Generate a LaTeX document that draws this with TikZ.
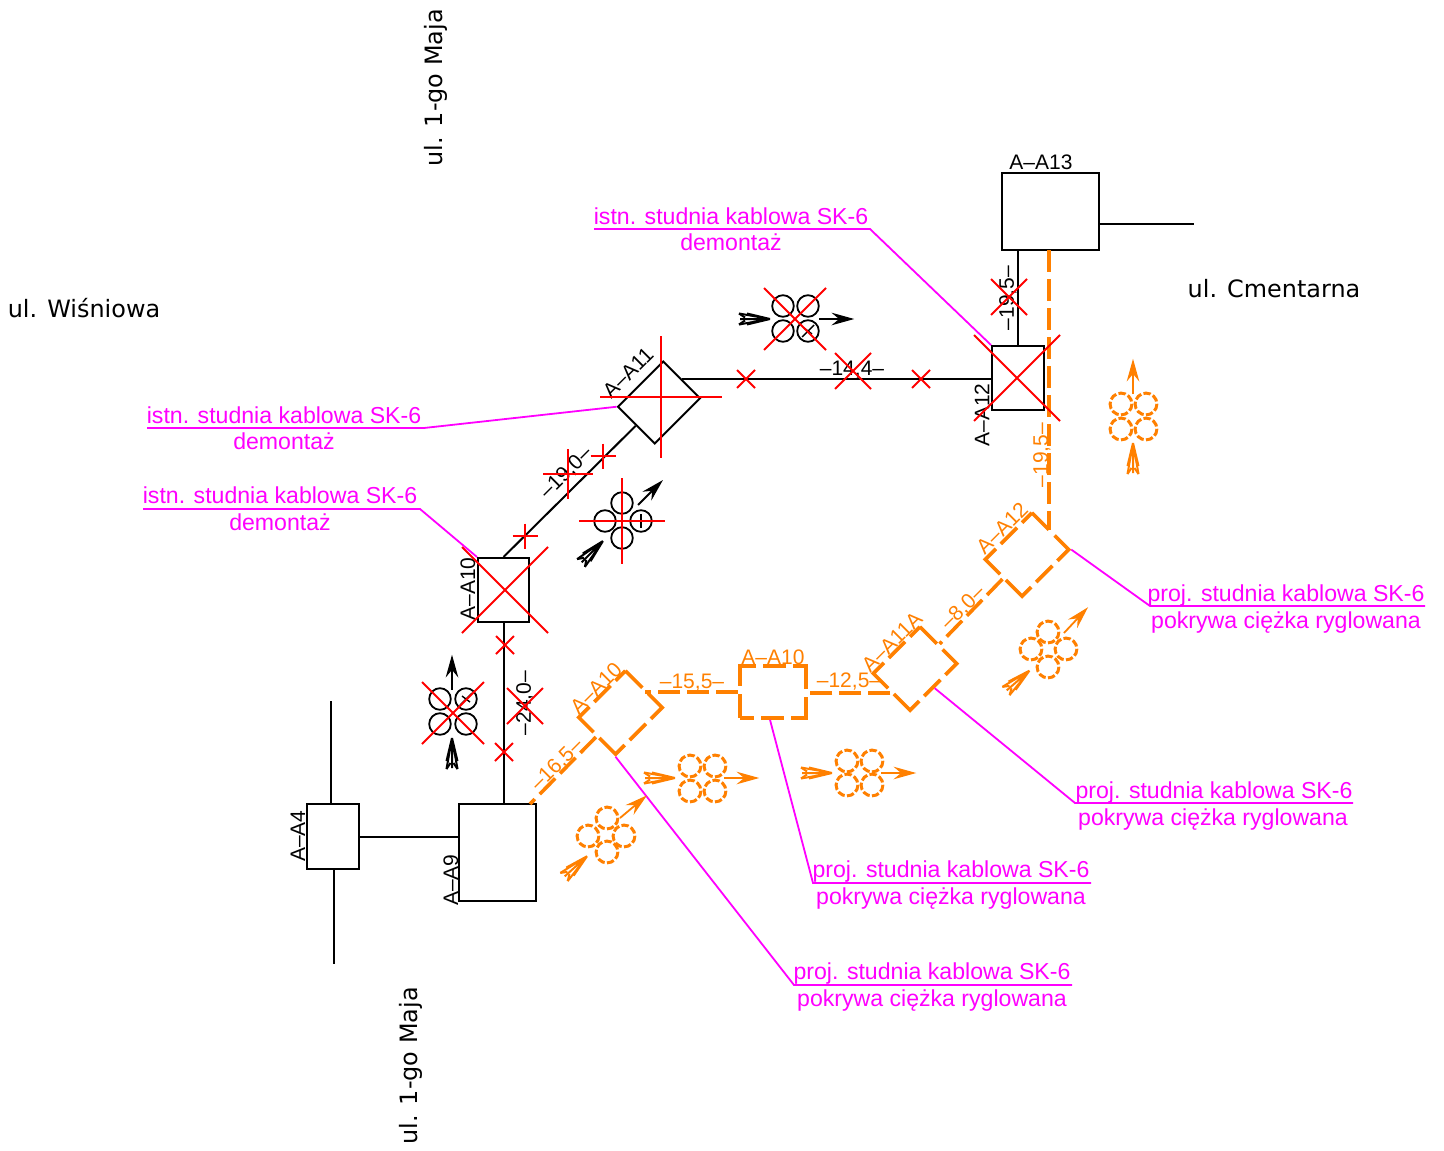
\documentclass[tikz,border=0pt]{standalone}
\usepackage{fontspec}
\setmainfont{Liberation Sans}
\newfontfamily\streetfont{DejaVu Sans}
\usetikzlibrary{calc}
\definecolor{cabor}{HTML}{FF8000}
\definecolor{labmag}{HTML}{FF00FF}
\definecolor{crossred}{HTML}{FF0000}
\tikzset{
  x=1pt,y=-1pt,
  box/.style={draw=black,line width=2pt,inner sep=0pt,fill=none},
  obox/.style={draw=cabor,line width=3.6pt,inner sep=0pt,
    dash pattern=on 14pt off 7pt on 23pt off 7pt on 36pt off 8pt on 36pt off 7pt on 23pt off 7pt on 36pt off 8pt on 24pt off 0pt},
  wire/.style={draw=black,line width=2pt},
  owire/.style={draw=cabor,line width=3.6pt,dash pattern=on 22pt off 7pt},
  leader/.style={draw=labmag,line width=1.8pt},
  redline/.style={draw=crossred,line width=1.8pt},
  cab/.style={draw=black,line width=1.8pt},
  ocab/.style={draw=cabor,line width=3pt,dash pattern=on 7.3pt off 2.4pt},
  cad/.style={font=\fontsize{21}{25}\selectfont,inner sep=0pt,text=black},
  ocad/.style={font=\fontsize{21}{25}\selectfont,inner sep=0pt,text=cabor},
  lab/.style={font=\fontsize{23.1}{27}\selectfont,inner sep=0pt,text=labmag,anchor=base},
  street/.style={font=\streetfont\fontsize{23.9}{28}\selectfont,inner sep=0pt,text=black},
  singlearr/.pic={
    \draw[line width=1.8pt,pic actions] (0,0) -- (22,0);
    \draw[line width=1.2pt,pic actions,line join=miter] (33,0) -- (15,-5) -- (21,0) -- (15,5) -- cycle;
  },
  featherarr/.pic={
    \draw[line width=2pt,pic actions,line join=miter]
      (31,0) -- (0,-5.5) (31,0) -- (0,5.5) (31,0) -- (1,0) (31,0) -- (8,-5.5) (31,0) -- (8,5.5);
    \draw[line width=2pt,pic actions] (0,-5.5) -- (6,-1.5) (0,5.5) -- (6,1.5);
  }
}
\newcommand{\redx}[3]{\draw[redline] (#1-#3,#2-#3) -- (#1+#3,#2+#3) (#1-#3,#2+#3) -- (#1+#3,#2-#3);}
\newcommand{\redplus}[3]{\draw[redline] (#1-#3,#2) -- (#1+#3,#2) (#1,#2-#3) -- (#1,#2+#3);}
\begin{document}
\begin{tikzpicture}
\useasboundingbox (0,0) rectangle (1444,1151);
\fill[white] (0,0) rectangle (1444,1151);

% black boxes
\node[box,minimum width=97pt,minimum height=77pt] (a13) at (1050.5,211.5) {};
\node[box,minimum width=52pt,minimum height=64pt] (a12) at (1018,378) {};
\node[box,minimum width=64pt,minimum height=52pt,rotate=45] (a11) at (659,402.5) {};
\node[box,minimum width=51pt,minimum height=64pt] (a10) at (503.5,590) {};
\node[box,minimum width=77pt,minimum height=97pt] (a9) at (497.5,852.5) {};
\node[box,minimum width=52pt,minimum height=65pt] (a4) at (333,836.5) {};

% orange boxes
\node[obox,minimum width=66pt,minimum height=52pt,rotate=45] (oa12) at (1027,554.5) {};
\node[obox,minimum width=66pt,minimum height=52pt,rotate=45] (oa11) at (915,668.5) {};
\node[obox,minimum width=66pt,minimum height=52pt] (oa10r) at (773,692) {};
\node[obox,minimum width=66pt,minimum height=52pt,rotate=45] (oa10) at (620.5,712.5) {};

% free ends
\coordinate (e13) at (1194,224);
\coordinate (s13) at (1099,224);
\coordinate (e4n) at (331,701);
\coordinate (s4n) at (331,804);
\coordinate (e4s) at (334,964);
\coordinate (s4s) at (334,869);
\coordinate (o9) at (530,804);
\coordinate (o13) at (1049,250);
\coordinate (oa12t) at (1049,530);

% black connectors
\draw[wire] (s13) -- (e13);
\draw[wire] (s4n) -- (e4n);
\draw[wire] (s4s) -- (e4s);
\draw[wire] (a12.north) -- (a12.north |- a13.south);
\draw[wire] (a11.east) -- (a11.east -| a12.west);
\draw[wire] (a11.west) -- (a10.north);
\draw[wire] (a10.south) -- (a10.south |- a9.north);
\draw[wire] (a4.east) -- (a4.east -| a9.west);

% orange connectors
\draw[owire] (o13) -- (oa12t);
\draw[owire] (oa12.west) -- (oa11.east);
\draw[owire] (oa11.west) -- (oa11.west -| oa10r.east);
\draw[owire] (oa10r.west) -- (oa10r.west -| oa10.east);
\draw[owire] (oa10.west) -- (o9);

% leaders
\coordinate (u1a) at (594,229); \coordinate (u1b) at (870,229);
\draw[leader] (u1a) -- (u1b) -- (a12.north west);
\coordinate (u2a) at (147,428); \coordinate (u2b) at (424,428);
\draw[leader] (u2a) -- (u2b) -- (a11.north west);
\coordinate (u3a) at (143,509); \coordinate (u3b) at (420,509);
\draw[leader] (u3a) -- (u3b) -- (a10.north west);
\coordinate (u4a) at (1425,606); \coordinate (u4b) at (1150,606);
\draw[leader] (u4a) -- (u4b) -- (oa12.south east);
\coordinate (u5a) at (1353,803); \coordinate (u5b) at (1075,803);
\draw[leader] (u5a) -- (u5b) -- (oa11.south);
\coordinate (u6a) at (1091,883); \coordinate (u6b) at (813,883);
\draw[leader] (u6a) -- (u6b) -- ($(oa10r.south)+(-3,0)$);
\coordinate (u7a) at (1072,985); \coordinate (u7b) at (794,985);
\draw[leader] (u7a) -- (u7b) -- (oa10.south west);

% magenta labels
\node[lab] (t1a) at (731,224) {istn. studnia kablowa SK-6};
\node[lab] (t1b) at (731,250) {demontaż};
\node[lab] (t2a) at (284,423) {istn. studnia kablowa SK-6};
\node[lab] (t2b) at (284,449) {demontaż};
\node[lab] (t3a) at (280,503) {istn. studnia kablowa SK-6};
\node[lab] (t3b) at (280,530) {demontaż};
\node[lab] (t4a) at (1286,601) {proj. studnia kablowa SK-6};
\node[lab] (t4b) at (1286,628) {pokrywa ciężka ryglowana};
\node[lab] (t5a) at (1214,798) {proj. studnia kablowa SK-6};
\node[lab] (t5b) at (1213,825) {pokrywa ciężka ryglowana};
\node[lab] (t6a) at (951,877) {proj. studnia kablowa SK-6};
\node[lab] (t6b) at (951,904) {pokrywa ciężka ryglowana};
\node[lab] (t7a) at (932,979) {proj. studnia kablowa SK-6};
\node[lab] (t7b) at (932,1006) {pokrywa ciężka ryglowana};

% street names
\node[street,rotate=90] (s1) at (436,88) {ul. 1-go Maja};
\node[street,rotate=90] (s2) at (411,1066) {ul. 1-go Maja};
\node[street] (s3) at (84,308) {ul. Wiśniowa};
\node[street] (s4) at (1274,289) {ul. Cmentarna};

% CAD labels black
\node[cad] (l1) at (1041,162) {A–A13};
\node[cad,rotate=90] (l2) at (1008,298) {–19,5–};
\node[cad] (l3) at (852,370) {–14,4–};
\node[cad,rotate=90] (l4) at (982,415) {A–A12};
\node[cad,rotate=45] (l5) at (628,373) {A–A11};
\node[cad,rotate=45] (l6) at (566,473) {–19,0–};
\node[cad,rotate=90] (l7) at (468,589) {A–A10};
\node[cad,rotate=90] (l8) at (525,703) {–24,0–};
\node[cad,rotate=90] (l9) at (298,836) {A–A4};
\node[cad,rotate=90] (l10) at (451,880) {A–A9};

% CAD labels orange
\node[ocad] (o1) at (773,657) {A–A10};
\node[ocad] (o2) at (692,683) {–15,5–};
\node[ocad] (o3) at (849,682) {–12,5–};
\node[ocad,rotate=45] (o4) at (963,608) {–8,0–};
\node[ocad,rotate=90] (o5) at (1042,455) {–19,5–};
\node[ocad,rotate=45] (o6) at (1002,528) {A–A12};
\node[ocad,rotate=45] (o7) at (892,642) {A–A11A};
\node[ocad,rotate=45] (o8) at (596,688) {A–A10};
\node[ocad,rotate=45] (o9t) at (557,765) {–16,5–};

% black cable groups
\foreach \px/\py in {622/503,605/521,641/521,622/538,
                     440/699,466/699,440/724,466/724,
                     783/306,808/306,783/331,808/331}
  \draw[cab] (\px,\py) circle[radius=10.8];
\draw[cab,line width=1.4pt] (632,521) -- (650,521) (641,514) -- (641,528);
\draw[cab,line width=1.4pt] (460,705) -- (472,693) (462,696) -- (470,702);
\draw[cab,line width=1.4pt] (802,337) -- (814,325) (804,328) -- (812,334);

% orange cable groups
\foreach \px/\py in {607/818,588/836,624/836,607/852,
                     690/766,715/766,690/791,715/791,
                     847/761,872/761,847/785,872/785,
                     1048/632,1031/649,1066/649,1048/667,
                     1121/404,1146/404,1121/429,1146/429}
  \draw[ocab] (\px,\py) circle[radius=10.9];

% arrows
\pic[draw=black,fill=black,rotate=45] at (638,505) {singlearr};
\pic[draw=black,rotate=45] at (581,563) {featherarr};
\pic[draw=black,fill=black,rotate=90] at (452,690) {singlearr};
\pic[draw=black,rotate=90] at (452,769) {featherarr};
\pic[draw=black,fill=black] at (819,319) {singlearr};
\pic[draw=black] at (739,319) {featherarr};
\pic[draw=cabor,fill=cabor,rotate=40] at (620,818) {singlearr};
\pic[draw=cabor,rotate=42] at (564,877) {featherarr};
\pic[draw=cabor,fill=cabor] at (724,778) {singlearr};
\pic[draw=cabor] at (644,778) {featherarr};
\pic[draw=cabor,fill=cabor] at (881,773) {singlearr};
\pic[draw=cabor] at (801,773) {featherarr};
\pic[draw=cabor,fill=cabor,rotate=47] at (1064,633) {singlearr};
\pic[draw=cabor,rotate=41] at (1006,691) {featherarr};
\pic[draw=cabor,fill=cabor,rotate=90] at (1133,394) {singlearr};
\pic[draw=cabor,rotate=90] at (1133,474) {featherarr};

% red demolition marks
\redplus{661}{397}{61}
\redplus{525}{536}{12.5}
\redplus{603}{456}{12.5}
\redplus{568}{474}{25}
\redplus{622}{521}{43}
\redx{505}{590}{43}
\redx{505}{645}{9}
\redx{504}{752}{9}
\redx{525}{706}{18}
\redx{453}{713}{31}
\redx{1017}{378}{43}
\redx{746}{379}{9}
\redx{921}{379}{9}
\redx{853}{371}{18}
\redx{1009}{297}{18}
\redx{795}{319}{31}
\end{tikzpicture}
\end{document}
